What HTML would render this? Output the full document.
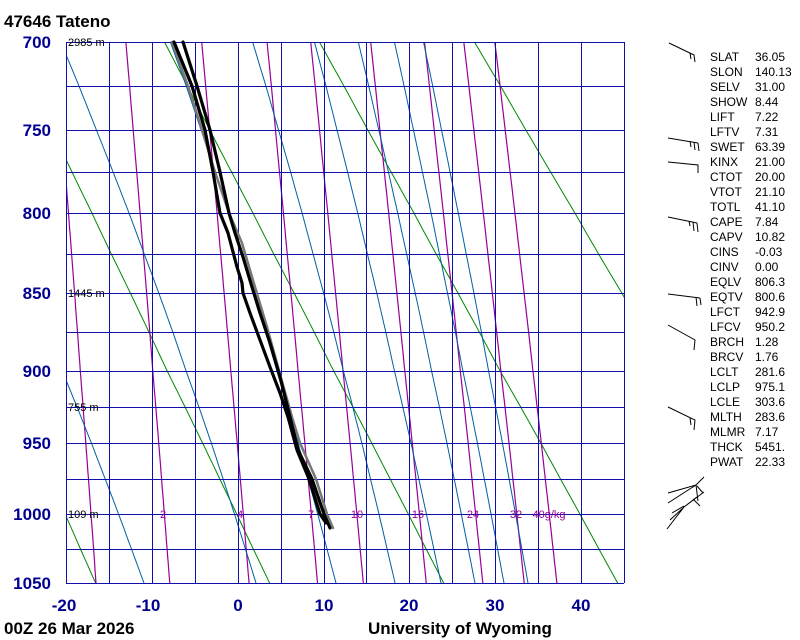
<!DOCTYPE html>
<html><head><meta charset="utf-8">
<style>
html,body{margin:0;padding:0;background:#fff;}
svg{display:block;}
.pl{font:bold 17px "Liberation Sans",sans-serif;fill:#000090;}
.tl{font:bold 17px "Liberation Sans",sans-serif;fill:#000;}
.hl{font:11px "Liberation Sans",sans-serif;fill:#000;}
.ml{font:11px "Liberation Sans",sans-serif;fill:#990099;}
.st{font:12px "Liberation Sans",sans-serif;fill:#000;}
</style></head><body>
<svg id="s" width="800" height="640" xmlns="http://www.w3.org/2000/svg">
<defs><clipPath id="c"><rect x="66" y="42" width="558" height="541"/></clipPath></defs>
<g id="lines" clip-path="url(#c)"></g>
<g id="grid" shape-rendering="crispEdges"></g>
<g id="snd" fill="none" stroke-linejoin="round" stroke-linecap="round">
<polyline stroke="#777" stroke-width="2.5" points="172,42 188,86 202,130 215,172 229,213 242,243 255,287 267,327 278,367 292,417 300,443 316,479 327,514 333,528"/>
<polyline stroke="#000" stroke-width="3.2" points="183,42 197,86 210,130 220,172 229,213 235,233 243,257 252,287 260,313 270,343 280,377 290,417 298,450 312,479 324,514 330,528"/>
<polyline stroke="#000" stroke-width="3.2" points="174,42 192,86 205,130 213,172 220,213 228,233 237,267 242,283 243,293 250,313 260,340 270,367 280,393 288,417 297,450 309,479 320,514 326,523"/>
</g>
<text class="tl" x="4" y="27">47646  Tateno</text>
<text class="tl" x="4" y="634">00Z 26 Mar 2026</text>
<text class="tl" x="368" y="634">University of Wyoming</text>
<g class="pl" text-anchor="end">
<text x="51" y="48">700</text><text x="51" y="136">750</text><text x="51" y="219">800</text>
<text x="51" y="299">850</text><text x="51" y="377">900</text><text x="51" y="449">950</text>
<text x="51" y="520">1000</text><text x="51" y="589">1050</text>
</g>
<g class="pl" text-anchor="middle">
<text x="64" y="611">-20</text><text x="148" y="611">-10</text><text x="238" y="611">0</text>
<text x="324" y="611">10</text><text x="409" y="611">20</text><text x="495" y="611">30</text><text x="581" y="611">40</text>
</g>
<g class="hl">
<text x="68" y="46">2985 m</text><text x="68" y="297">1445 m</text>
<text x="68" y="411">755 m</text><text x="68" y="518">109 m</text>
</g>
<g class="ml" text-anchor="middle">
<text x="163" y="518">2</text><text x="240" y="518">4</text><text x="311" y="518">7</text>
<text x="357" y="518">10</text><text x="418" y="518">16</text><text x="473" y="518">24</text>
<text x="516" y="518">32</text><text x="549" y="518">40g/kg</text>
</g>
<g class="st" id="stats"></g>
<g fill="none" stroke="#000" stroke-width="1">
<path d="M669,43 L694,55 L695,62 M690,53 L691,59"/>
<path d="M668,138 L698,143 M698,143 L699,151 M694,142 L695,150 M690,141 L691,147"/>
<path d="M668,162 L698,165 L698,173"/>
<path d="M668,217 L697,223 M697,223 L698,232 M693,222 L694,231 M689,221 L690,226"/>
<path d="M668,294 L700,298 M700,298 L701,305 M696,297 L697,306"/>
<path d="M668,325 L695,340 L694,350"/>
<path d="M668,407 L695,420 L694,430 M690,418 L691,425"/>
<path d="M668,493 L696,485 L698,501 M668,503 L696,485 M696,485 L704,477 M697,486 L703,493"/>
<path d="M667,529 L684,507 L697,497 M670,520 L683,508 M684,507 L704,492 M693,499 L700,506 M672,513 L684,506"/>
</g>
</svg>
<script>
(function(){
var NS="http://www.w3.org/2000/svg";
var P=[700,725,750,775,800,825,850,875,900,925,950,975,1000,1025,1050];
var Y=[42,86,130,172,213,254,293,332,371,407,443,479,514,549,583];
function py(p){
  var i;
  if(p<=700){i=0;}else if(p>=1050){i=13;}else{for(i=0;i<14;i++){if(p<=P[i+1])break;}}
  var f=(Math.log(p)-Math.log(P[i]))/(Math.log(P[i+1])-Math.log(P[i]));
  return Y[i]+f*(Y[i+1]-Y[i]);
}
function tx(t){return 238+8.58*t;}
var L=document.getElementById('lines'),G=document.getElementById('grid');
function pl(par,pts,col,w){var e=document.createElementNS(NS,'polyline');e.setAttribute('points',pts.join(' '));e.setAttribute('fill','none');e.setAttribute('stroke',col);e.setAttribute('stroke-width',w);par.appendChild(e);}
function ln(par,x1,y1,x2,y2,col){var e=document.createElementNS(NS,'line');e.setAttribute('x1',x1);e.setAttribute('y1',y1);e.setAttribute('x2',x2);e.setAttribute('y2',y2);e.setAttribute('stroke',col);e.setAttribute('stroke-width',1);par.appendChild(e);}
var p,pts,k;
[233,253,273,293,313,333,353].forEach(function(th){pts=[];for(p=690;p<=1060;p+=5){var T=th*Math.pow(p/1000,0.286)-273.15;pts.push(tx(T).toFixed(1)+','+py(p).toFixed(1));}pl(L,pts,'#008800',1);});
[1,2,4,7,10,16,24,32,40].forEach(function(w){pts=[];for(p=690;p<=1060;p+=5){var e=w*p/(622+w);var a=Math.log(e/6.112);var T=243.5*a/(17.67-a);pts.push(tx(T).toFixed(1)+','+py(p).toFixed(1));}pl(L,pts,'#990099',1.2);});
function es(t){return 6.112*Math.exp(17.67*t/(t+243.5));}
[-10.96,2.10,11.42,18.30,23.66,27.62,31.0,33.8].forEach(function(t0){
  var T=t0+273.15;pts=[];
  for(p=1050;p>=690;p-=1){
    var tc=T-273.15,e=es(tc),rs=0.622*e/(p-e);
    var dTdp=(1/p)*(287*T+2.5e6*rs)/(1004+2.5e6*2.5e6*rs*0.622/(287*T*T));
    if(p%5==0)pts.push(tx(tc).toFixed(1)+','+py(p).toFixed(1));
    T-=dTdp;
  }
  pl(L,pts,'#0060a0',1);
});
for(k=0;k<=13;k++){var x=Math.round(66+k*558/13)+0.5;ln(G,x,42,x,583,'#1010a8');}
Y.forEach(function(y){ln(G,66,y+0.5,624,y+0.5,'#1010a8');});
var S=[["SLAT","36.05"],["SLON","140.13"],["SELV","31.00"],["SHOW","8.44"],["LIFT","7.22"],["LFTV","7.31"],["SWET","63.39"],["KINX","21.00"],["CTOT","20.00"],["VTOT","21.10"],["TOTL","41.10"],["CAPE","7.84"],["CAPV","10.82"],["CINS","-0.03"],["CINV","0.00"],["EQLV","806.3"],["EQTV","800.6"],["LFCT","942.9"],["LFCV","950.2"],["BRCH","1.28"],["BRCV","1.76"],["LCLT","281.6"],["LCLP","975.1"],["LCLE","303.6"],["MLTH","283.6"],["MLMR","7.17"],["THCK","5451."],["PWAT","22.33"]];
var st=document.getElementById('stats');
S.forEach(function(r,i){var y=61+i*15;var a=document.createElementNS(NS,'text');a.setAttribute('x',710);a.setAttribute('y',y);a.textContent=r[0];st.appendChild(a);var b=document.createElementNS(NS,'text');b.setAttribute('x',755);b.setAttribute('y',y);b.textContent=r[1];st.appendChild(b);});
})();
</script>
</body></html>
